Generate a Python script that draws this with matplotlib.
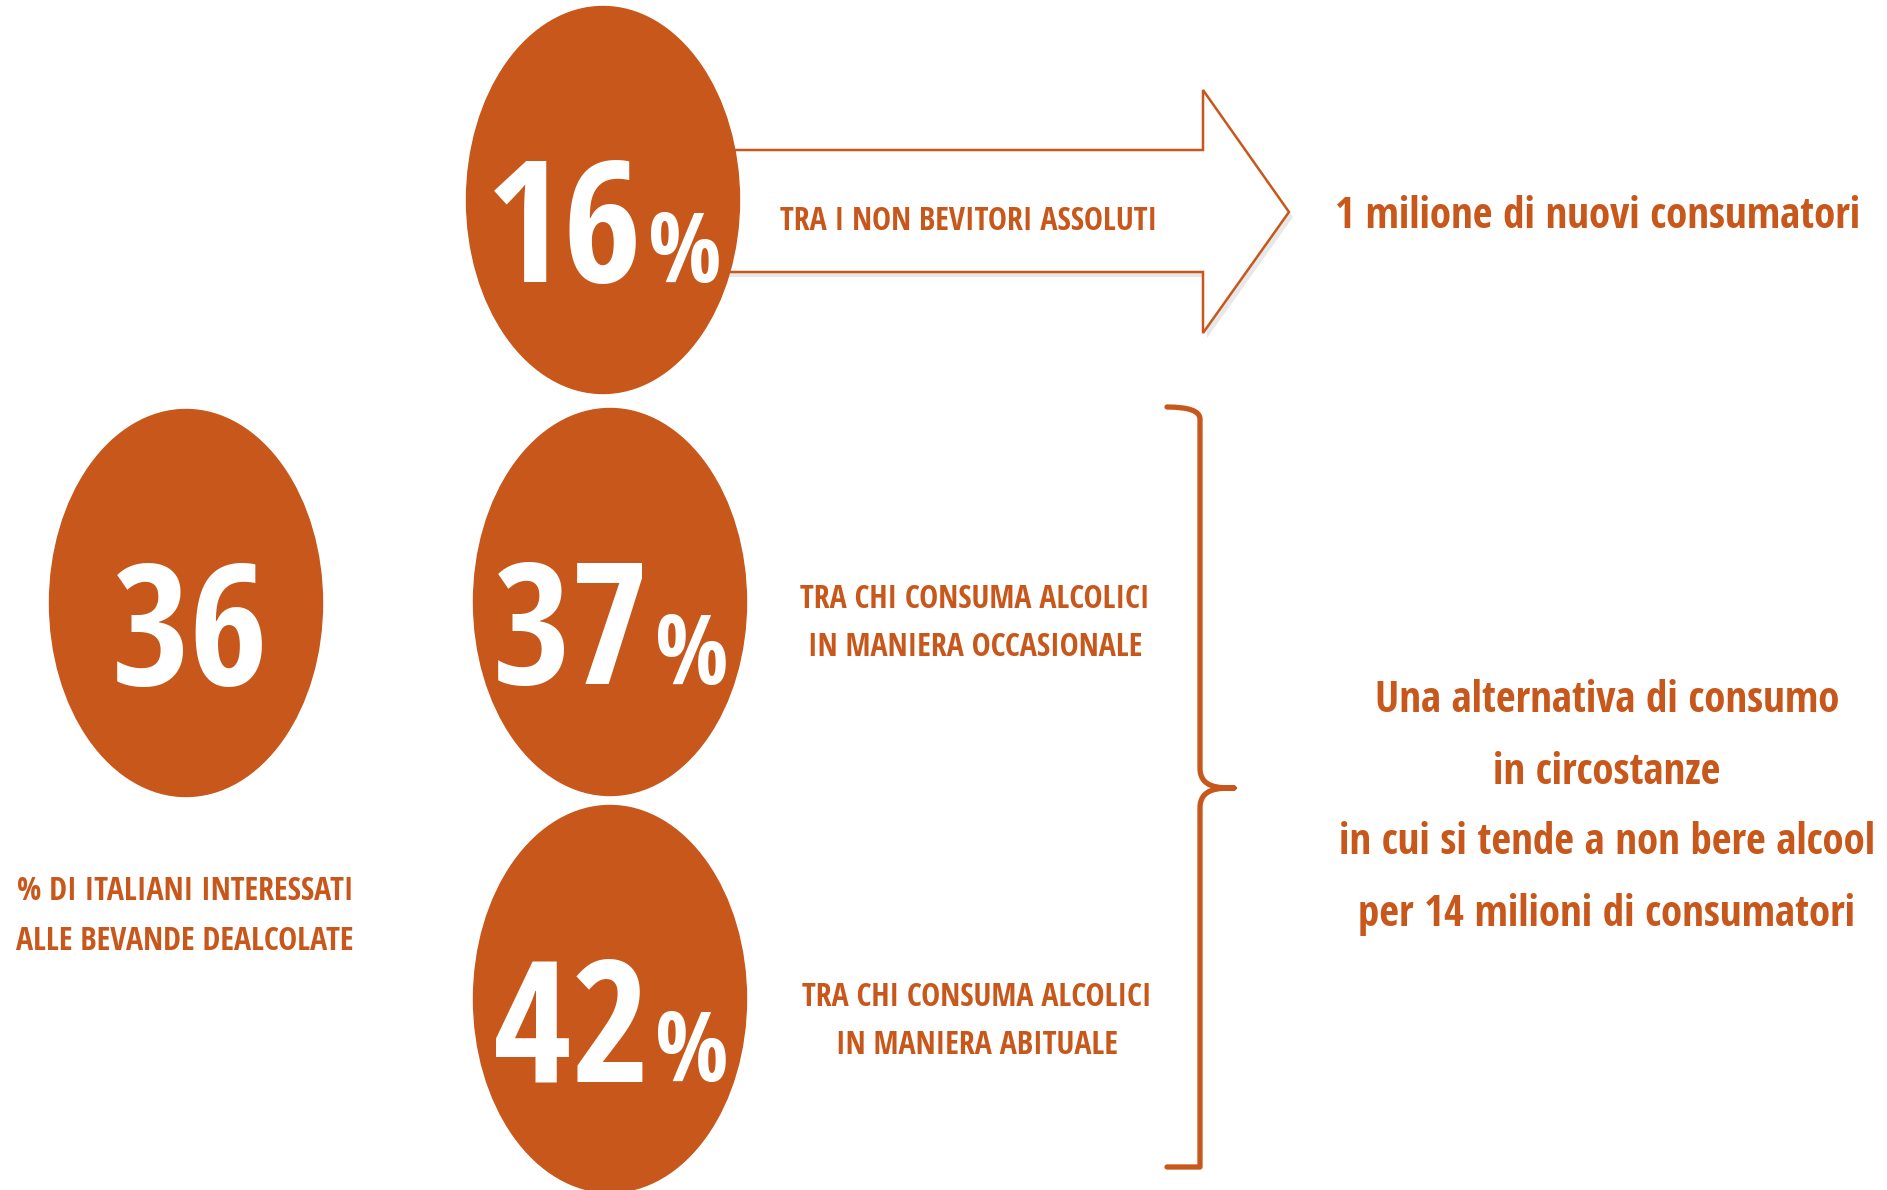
import matplotlib
matplotlib.use("Agg")
import matplotlib.pyplot as plt
from matplotlib.patches import Ellipse, Polygon, PathPatch
from matplotlib.path import Path

ORANGE = "#C8571B"
FONT = ["Open Sans Condensed", "DejaVu Sans"]

# headline figure
total_value = 36
total_label = ["% DI ITALIANI INTERESSATI", "ALLE BEVANDE DEALCOLATE"]

# breakdown by drinking habit
segment_values = [16, 37, 42]
segment_labels = [
    ["TRA I NON BEVITORI ASSOLUTI"],
    ["TRA CHI CONSUMA ALCOLICI", "IN MANIERA OCCASIONALE"],
    ["TRA CHI CONSUMA ALCOLICI", "IN MANIERA ABITUALE"],
]

arrow_text = "1 milione di nuovi consumatori"
brace_text = [
    "Una alternativa di consumo",
    "in circostanze",
    "in cui si tende a non bere alcool",
    "per 14 milioni di consumatori",
]

W, H = 1887, 1190
fig = plt.figure(figsize=(W / 100, H / 100), dpi=100)
ax = fig.add_axes([0, 0, 1, 1])
ax.set_xlim(0, W)
ax.set_ylim(H, 0)
ax.axis("off")

EW, EH = 273, 387
NUM_SIZE = 122
PCT_SIZE = 70


def big_number(x, y, value, pct=True):
    ax.add_patch(Ellipse((x, y), EW, EH, color=ORANGE, zorder=3))
    base = y + 82
    if pct:
        ax.text(x + 40, base, str(value), color="white", fontsize=NUM_SIZE,
                fontweight="bold", family=FONT, ha="right", va="baseline", zorder=4)
        ax.text(x + 45, base, "%", color="white", fontsize=PCT_SIZE,
                fontweight="bold", family=FONT, ha="left", va="baseline", zorder=4)
    else:
        ax.text(x + 4, base, str(value), color="white", fontsize=NUM_SIZE,
                fontweight="bold", family=FONT, ha="center", va="baseline", zorder=4)


# left circle
big_number(186, 603, total_value, pct=False)
for i, line in enumerate(total_label):
    ax.text(185, 892 + i * 49, line, color=ORANGE, fontsize=23, fontweight="bold",
            family=FONT, ha="center", va="center")

# right column circles
centers = [(603, 200), (610, 602), (610, 999)]
text_pos = [(969, 222), (975, 624), (977, 1021)]
for (cx, cy), v, lbl, (tx, ty) in zip(centers, segment_values, segment_labels, text_pos):
    big_number(cx, cy, v)
    n = len(lbl)
    for i, line in enumerate(lbl):
        ax.text(tx, ty + (i - (n - 1) / 2) * 48, line, color=ORANGE, fontsize=23,
                fontweight="bold", family=FONT, ha="center", va="center", zorder=5)

# arrow from the first circle
pts = [(700, 150), (1203, 150), (1203, 90), (1289, 212),
       (1203, 333), (1203, 272), (700, 272)]
shadow = Polygon([(x + 4, y + 5) for x, y in pts], closed=True,
                 facecolor="#d9d9d9", edgecolor="none", alpha=0.6, zorder=1)
ax.add_patch(shadow)
ax.add_patch(Polygon(pts, closed=True, facecolor="white", edgecolor=ORANGE,
                     linewidth=1.8, zorder=2))
ax.text(1598, 216, arrow_text, color=ORANGE, fontsize=31, fontweight="bold",
        family=FONT, ha="center", va="center")

# curly brace
top, mid, bot = 407, 788, 1167
xl, xv, xr = 1167, 1200, 1234
verts = [
    (xl, top), (xv, top), (xv, top + 12), (xv, top + 25),
    (xv, mid - 20),
    (xv, mid), (xr - 15, mid), (xr, mid),
    (xr - 15, mid), (xv, mid), (xv, mid + 20),
    (xv, bot - 25),
    (xv, bot - 12), (xv, bot), (xl, bot),
]
codes = [Path.MOVETO, Path.CURVE3, Path.CURVE3, Path.LINETO,
         Path.LINETO,
         Path.CURVE4, Path.CURVE4, Path.CURVE4,
         Path.CURVE4, Path.CURVE4, Path.CURVE4,
         Path.LINETO,
         Path.CURVE3, Path.CURVE3, Path.LINETO]
ax.add_patch(PathPatch(Path(verts, codes), facecolor="none", edgecolor=ORANGE,
                       linewidth=3.8, capstyle="round", joinstyle="round"))

for i, line in enumerate(brace_text):
    ax.text(1607, 701 + i * 71, line, color=ORANGE, fontsize=31, fontweight="bold",
            family=FONT, ha="center", va="center")

fig.savefig("out.png", dpi=100, facecolor="white")
